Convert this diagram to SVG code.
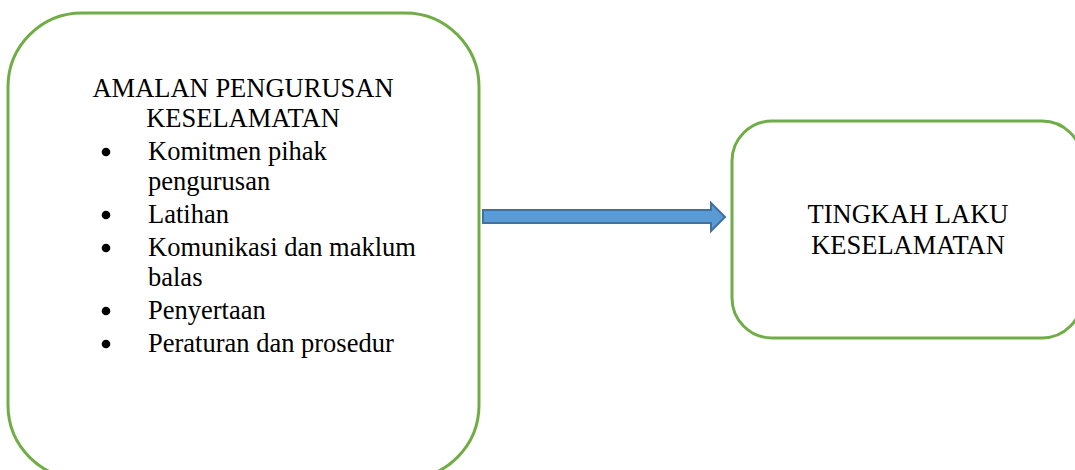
<svg xmlns="http://www.w3.org/2000/svg" width="1075" height="470" viewBox="0 0 1075 470">
<style>
.box{fill:#FFFFFF;stroke:#70AD47;stroke-width:3}
.t{font-family:"Liberation Serif","Times New Roman",serif;font-size:26.5px;fill:#000000}
.c{text-anchor:middle}
.arrow{fill:#5B9BD5;stroke:#41719C;stroke-width:2}
</style>
<rect width="1075" height="470" fill="#FFFFFF"/>
<g id="node-amalan">
<rect class="box" x="8" y="13" width="471" height="466" rx="74" ry="74"/>
<text class="t c" x="243" y="97">AMALAN PENGURUSAN</text>
<text class="t c" x="243" y="127">KESELAMATAN</text>
<g class="t">
<circle cx="106" cy="152" r="4.3"/>
<text class="t" x="148" y="160">Komitmen pihak</text>
<text class="t" x="148" y="190">pengurusan</text>
<circle cx="106" cy="215" r="4.3"/>
<text class="t" x="148" y="223">Latihan</text>
<circle cx="106" cy="248" r="4.3"/>
<text class="t" x="148" y="256">Komunikasi dan maklum</text>
<text class="t" x="148" y="286">balas</text>
<circle cx="106" cy="311" r="4.3"/>
<text class="t" x="148" y="319">Penyertaan</text>
<circle cx="106" cy="344" r="4.3"/>
<text class="t" x="148" y="352">Peraturan dan prosedur</text>
</g>
</g>
<g id="node-tingkah">
<rect class="box" x="732" y="121" width="350" height="217" rx="40" ry="40"/>
<text class="t c" x="908" y="223">TINGKAH LAKU</text>
<text class="t c" x="908" y="254">KESELAMATAN</text>
</g>
<g id="connectors">
<path class="arrow" d="M483,210 L711,210 L711,203 L725,217 L711,231 L711,223 L483,223 Z"/>
</g>
</svg>
